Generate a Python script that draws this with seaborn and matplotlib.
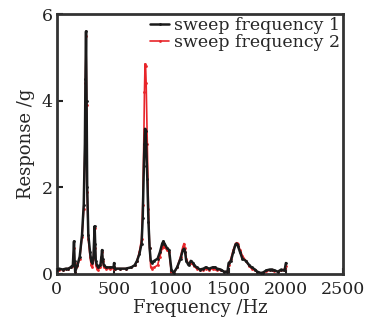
import numpy as np
import pandas as pd
import matplotlib
matplotlib.use('Agg')
import matplotlib.pyplot as plt
import seaborn as sns

# frequency (Hz) and response (g)
freq = [0, 20, 50, 80, 100, 120, 140, 150, 155, 160, 180, 200, 220, 235, 245, 250, 255,
        260, 265, 275, 290, 300, 310, 320, 330, 335, 340, 350, 360, 380, 390, 395, 400,
        410, 430, 460, 495, 500, 505, 550, 600, 650, 680, 700, 720, 740, 750, 760, 765,
        770, 775, 780, 790, 800, 810, 820, 830, 850, 880, 900, 920, 930, 940, 960, 980,
        1000, 1020, 1050, 1080, 1100, 1110, 1120, 1130, 1150, 1170, 1190, 1200, 1220,
        1250, 1280, 1300, 1330, 1360, 1380, 1400, 1430, 1460, 1490, 1500, 1520, 1540,
        1560, 1570, 1580, 1600, 1620, 1650, 1680, 1700, 1730, 1750, 1780, 1800, 1830,
        1860, 1880, 1900, 1930, 1960, 1980, 1990, 2000]

sweep1 = [0.10, 0.12, 0.10, 0.12, 0.12, 0.15, 0.20, 0.75, 0.30, 0.05, 0.20, 0.40, 0.90,
          1.60, 3.00, 4.50, 5.60, 4.00, 2.00, 0.90, 0.50, 0.30, 0.25, 0.40, 1.10, 0.70,
          0.30, 0.20, 0.15, 0.20, 0.40, 0.55, 0.35, 0.20, 0.15, 0.15, 0.15, 0.25, 0.12,
          0.12, 0.12, 0.15, 0.20, 0.30, 0.45, 0.70, 1.30, 2.50, 3.00, 3.35, 3.30, 3.00,
          2.20, 1.20, 0.60, 0.30, 0.25, 0.30, 0.35, 0.50, 0.70, 0.75, 0.70, 0.60, 0.55,
          0.10, 0.02, 0.15, 0.35, 0.55, 0.58, 0.50, 0.30, 0.20, 0.30, 0.25, 0.20, 0.15,
          0.10, 0.12, 0.15, 0.12, 0.15, 0.15, 0.12, 0.10, 0.05, 0.05, 0.25, 0.30, 0.50,
          0.68, 0.70, 0.65, 0.50, 0.35, 0.30, 0.20, 0.15, 0.10, 0.05, 0.02, 0.03, 0.08,
          0.10, 0.10, 0.08, 0.05, 0.10, 0.08, 0.10, 0.25]

sweep2 = [0.08, 0.10, 0.10, 0.12, 0.12, 0.15, 0.18, 0.60, 0.25, 0.05, 0.18, 0.35, 0.85,
          1.50, 2.90, 4.40, 5.50, 3.90, 1.90, 0.80, 0.40, 0.20, 0.15, 0.35, 1.05, 0.60,
          0.20, 0.12, 0.10, 0.15, 0.35, 0.50, 0.30, 0.15, 0.12, 0.12, 0.12, 0.15, 0.12,
          0.12, 0.12, 0.15, 0.20, 0.30, 0.50, 0.80, 1.60, 3.20, 4.20, 4.85, 4.80, 4.40,
          3.00, 1.50, 0.60, 0.15, 0.12, 0.15, 0.20, 0.40, 0.60, 0.65, 0.62, 0.55, 0.50,
          0.02, 0.00, 0.15, 0.40, 0.62, 0.70, 0.60, 0.35, 0.22, 0.25, 0.22, 0.18, 0.12,
          0.10, 0.10, 0.12, 0.10, 0.12, 0.12, 0.10, 0.08, 0.05, 0.05, 0.20, 0.35, 0.55,
          0.70, 0.72, 0.70, 0.55, 0.42, 0.30, 0.18, 0.12, 0.08, 0.04, 0.02, 0.03, 0.06,
          0.08, 0.10, 0.07, 0.05, 0.08, 0.10, 0.12, 0.18]

labels = ['sweep frequency 1', 'sweep frequency 2']

df = pd.DataFrame({'freq': freq, labels[0]: sweep1, labels[1]: sweep2})
long = df.melt(id_vars='freq', var_name='series', value_name='resp')

sns.set_style('ticks')
plt.rcParams['font.family'] = ['DejaVu Serif']

fig = plt.figure(figsize=(3.69, 3.26), dpi=100)
ax = fig.add_axes([0.154, 0.160, 0.776, 0.797])

# red first so black sits on top, legend reordered after
sns.lineplot(data=long[long.series == labels[1]], x='freq', y='resp', color='#e8252a',
             lw=1.2, marker='o', markersize=2, markeredgewidth=0, ax=ax, zorder=2,
             label=labels[1])
sns.lineplot(data=long[long.series == labels[0]], x='freq', y='resp', color='#1a1a1a',
             lw=1.8, marker='o', markersize=2, markeredgewidth=0, ax=ax, zorder=3,
             label=labels[0])

ax.set_xlim(0, 2500)
ax.set_ylim(0, 6)
ax.set_xticks([0, 500, 1000, 1500, 2000, 2500])
ax.set_yticks([0, 2, 4, 6])
ax.set_xlabel('Frequency /Hz', fontsize=13, labelpad=1)
ax.set_ylabel('Response /g', fontsize=13, labelpad=5)
ax.tick_params(direction='in', length=4, width=1.5, labelsize=12.5, colors='#222222')
ax.tick_params(axis='x', pad=5)
ax.tick_params(axis='y', pad=3)
for s in ax.spines.values():
    s.set_linewidth(2)
    s.set_color('#333333')

h, l = ax.get_legend_handles_labels()
ax.legend(h[::-1], l[::-1], loc='upper right', frameon=False, fontsize=12.5,
          handlelength=1.1, handletextpad=0.3, borderaxespad=0.0, labelspacing=0.05,
          borderpad=0.15)

fig.savefig('out.png', dpi=100)
